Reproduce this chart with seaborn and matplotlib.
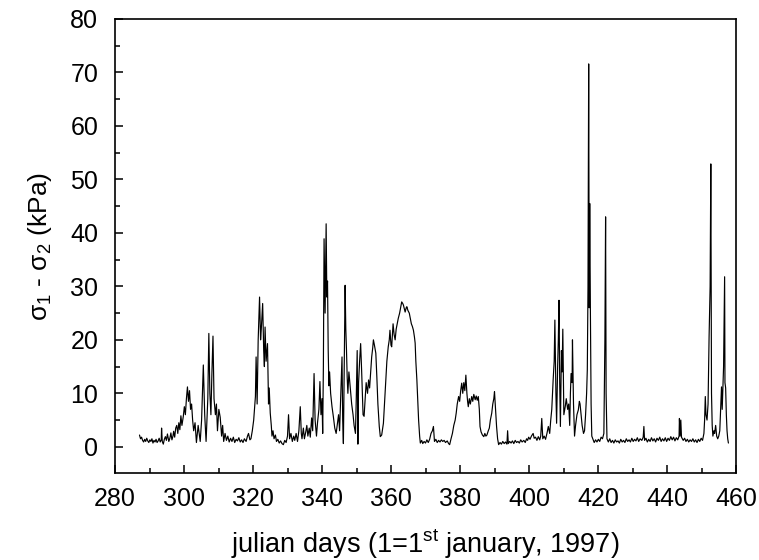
import matplotlib
matplotlib.use("Agg")
import matplotlib.pyplot as plt
import seaborn as sns
import pandas as pd
from matplotlib.ticker import MultipleLocator

# ---- data (julian day, sigma1 - sigma2 in kPa) ----
seg_early = [
    (287.1, 2.2), (287.4, 1.5), (287.7, 1.8), (288.0, 1.2), (288.3, 0.9), (288.6, 1.4), (288.9, 1.0),
    (289.2, 1.6), (289.5, 1.1), (289.8, 0.8), (290.1, 1.3), (290.4, 1.0), (290.7, 1.5), (291.0, 0.7),
    (291.3, 1.2), (291.6, 0.9), (291.9, 1.4), (292.2, 0.8), (292.5, 1.1), (292.8, 1.6), (293.1, 0.9),
    (293.4, 1.3), (293.5, 3.5), (293.7, 1.0), (294.0, 0.5), (294.3, 1.4), (294.6, 1.9), (294.9, 1.2),
    (295.2, 2.4), (295.6, 1.0), (295.9, 1.6), (296.2, 2.6), (296.5, 1.3), (296.8, 2.0), (297.0, 2.9),
    (297.3, 1.8), (297.6, 3.5), (297.9, 4.0), (298.2, 2.5), (298.5, 4.5), (298.8, 3.2), (299.1, 5.8),
    (299.4, 4.0), (299.8, 5.7), (300.1, 7.5), (300.4, 6.0), (300.7, 9.0), (301.0, 11.2), (301.3, 8.5),
    (301.6, 10.5), (301.9, 7.0), (302.2, 8.0), (302.5, 5.0), (302.8, 3.0), (303.2, 4.5), (303.6, 0.8),
    (304.1, 4.0), (304.7, 1.0), (305.1, 5.0), (305.6, 15.3), (306.0, 6.0), (306.4, 1.0), (306.9, 9.0),
    (307.2, 21.2), (307.5, 10.0), (307.8, 6.0), (308.1, 14.0), (308.4, 20.7), (308.7, 9.0), (309.1, 6.0),
    (309.4, 8.0), (309.7, 3.0), (310.1, 7.0), (310.5, 5.5), (310.9, 2.0), (311.2, 4.0), (311.5, 1.0),
    (311.9, 2.5), (312.3, 1.2), (312.7, 2.0), (313.1, 0.9), (313.5, 1.6), (313.9, 1.0), (314.3, 1.8),
    (314.7, 0.8), (315.1, 1.4), (315.5, 1.1), (315.9, 1.7), (316.3, 0.9), (316.7, 1.3), (317.1, 0.8),
    (317.5, 1.5), (318.0, 1.0), (318.4, 2.0), (318.7, 2.5), (319.1, 1.3), (319.4, 1.5),
]
seg_mid = [
    (319.8, 3.0), (320.2, 5.0), (320.7, 9.4), (320.9, 16.8), (321.2, 8.0), (321.5, 20.0), (321.9, 28.0),
    (322.2, 20.0), (322.4, 22.0), (322.8, 26.8), (323.1, 18.0), (323.3, 15.0), (323.5, 22.4), (323.8, 16.0),
    (324.2, 19.3), (324.5, 8.0), (324.7, 11.0), (325.0, 6.3), (325.3, 4.0), (325.5, 2.0), (325.8, 3.0),
    (326.1, 1.5), (326.5, 2.2), (326.8, 1.0), (327.2, 1.4), (327.6, 0.7), (328.0, 1.1), (328.4, 0.6),
    (328.8, 0.4), (329.2, 1.2), (329.6, 0.8), (330.0, 2.0), (330.3, 6.0), (330.6, 1.5), (331.0, 2.5),
    (331.4, 1.0), (331.8, 2.0), (332.1, 1.2), (332.5, 2.5), (332.9, 1.0), (333.3, 3.0), (333.7, 7.5),
    (334.0, 2.5), (334.2, 1.5), (334.6, 3.5), (334.9, 1.5), (335.3, 2.8), (335.6, 4.0), (335.9, 2.0),
    (336.3, 3.5), (336.6, 1.8), (337.0, 5.4), (337.3, 3.0), (337.7, 13.7), (338.0, 5.0), (338.4, 2.0),
    (338.7, 4.5), (339.1, 7.0), (339.4, 12.2), (339.7, 6.0), (340.0, 9.0), (340.2, 2.5), (340.4, 15.0),
    (340.6, 38.9), (340.9, 25.0), (341.2, 41.7), (341.4, 28.0), (341.6, 31.0), (341.8, 18.0), (342.0, 11.4),
    (342.2, 14.0), (342.5, 10.0), (342.9, 7.5), (343.3, 5.6), (343.7, 3.5), (344.1, 2.5), (344.4, 4.0),
    (344.8, 6.0), (345.1, 3.0), (345.4, 9.0), (345.8, 16.8), (346.0, 5.0), (346.2, 0.6), (346.4, 12.0),
    (346.7, 30.2), (346.9, 22.0), (347.1, 18.0), (347.3, 13.0), (347.5, 10.0), (347.8, 14.0), (348.2, 11.0),
    (348.6, 8.0), (349.0, 6.0), (349.3, 4.0), (349.7, 2.5), (349.9, 8.0), (350.2, 18.0), (350.4, 0.5),
    (350.6, 12.0), (350.9, 16.0), (351.2, 19.3), (351.5, 14.0), (351.9, 6.0), (352.2, 5.7), (352.5, 9.0),
    (352.8, 12.0), (353.2, 10.0), (353.5, 12.5), (353.8, 11.0), (354.1, 14.0), (354.4, 16.8), (354.7, 18.5),
    (354.9, 20.0), (355.2, 19.0), (355.6, 17.5), (355.9, 13.0), (356.2, 8.0), (356.6, 3.8), (356.9, 1.9),
    (357.3, 2.2), (357.8, 4.4), (358.1, 8.0), (358.5, 12.5), (358.8, 16.0), (359.2, 18.7), (359.5, 20.0),
    (359.7, 21.8), (360.0, 19.0), (360.2, 18.7), (360.6, 23.0), (360.9, 21.0), (361.2, 20.0), (361.5, 22.0),
    (361.8, 23.0), (362.1, 24.0), (362.5, 25.0), (362.8, 26.0), (363.1, 27.1), (363.4, 26.8), (363.6, 26.5),
    (364.1, 25.2), (364.4, 26.0), (364.6, 26.2), (364.9, 25.5), (365.3, 25.0), (365.6, 24.0), (365.9, 23.0),
    (366.2, 22.5), (366.5, 21.8), (366.8, 20.5), (367.0, 19.4), (367.2, 16.0), (367.5, 12.5), (367.8, 8.0),
    (368.0, 5.0), (368.3, 2.0), (368.5, 0.7),
]
seg_late = [
    (368.9, 1.2), (369.2, 0.6), (369.6, 1.0), (370.0, 0.7), (370.4, 1.3), (370.8, 0.8), (371.2, 1.4),
    (371.6, 2.5), (372.0, 3.0), (372.3, 3.8), (372.6, 1.0), (373.0, 1.4), (373.4, 0.8), (373.8, 1.2),
    (374.2, 0.9), (374.6, 1.3), (375.0, 1.0), (375.4, 1.2), (375.8, 0.8), (376.3, 1.1), (376.7, 0.6),
    (377.0, 0.4), (377.4, 1.5), (377.8, 2.5), (378.2, 4.0), (378.6, 5.0), (378.9, 6.3), (379.2, 8.0),
    (379.6, 9.4), (379.9, 8.5), (380.2, 10.5), (380.5, 11.9), (380.8, 10.0), (381.1, 12.0), (381.4, 10.5),
    (381.7, 13.4), (382.0, 10.0), (382.2, 8.5), (382.4, 7.5), (382.7, 9.0), (383.0, 8.0), (383.4, 9.4),
    (383.7, 8.5), (384.0, 9.8), (384.4, 8.8), (384.7, 9.5), (385.0, 8.7), (385.3, 9.4), (385.6, 7.0),
    (385.8, 3.8), (386.1, 2.8), (386.5, 2.2), (386.9, 1.9), (387.2, 2.5), (387.5, 2.0), (387.8, 2.2),
    (388.2, 3.0), (388.5, 3.5), (388.8, 5.0), (389.2, 6.3), (389.5, 8.0), (389.8, 9.0), (390.0, 10.3),
    (390.3, 7.0), (390.6, 3.8), (390.9, 1.5), (391.2, 0.4), (391.6, 0.8), (392.0, 0.5), (392.4, 1.0),
    (392.8, 0.6), (393.2, 0.9), (393.6, 0.5), (393.8, 3.0), (394.0, 0.6), (394.4, 1.0), (394.8, 0.7),
    (395.2, 1.1), (395.6, 0.6), (396.0, 1.2), (396.4, 0.8), (396.8, 1.0), (397.2, 0.7), (397.6, 1.3),
    (398.0, 0.9), (398.5, 1.2), (398.9, 0.8), (399.3, 1.5), (399.6, 1.2), (399.9, 1.8), (400.3, 1.4),
    (400.7, 2.0), (401.2, 2.5), (401.5, 1.6), (401.9, 1.8), (402.3, 1.2), (402.7, 1.9), (403.1, 1.3),
    (403.4, 2.0), (403.7, 5.3), (404.0, 1.5), (404.4, 2.0), (404.8, 1.4), (405.2, 2.5), (405.6, 3.8),
    (406.0, 2.5), (406.3, 5.0), (406.6, 7.0), (407.0, 12.5), (407.3, 16.0), (407.5, 23.7), (407.8, 10.0),
    (408.0, 4.4), (408.3, 15.0), (408.5, 20.0), (408.7, 27.4), (408.9, 12.0), (409.1, 3.8), (409.4, 18.0),
    (409.6, 14.0), (409.8, 22.0), (410.1, 6.0), (410.5, 7.5), (410.8, 9.0), (411.2, 7.0), (411.5, 8.0),
    (411.8, 4.0), (412.0, 10.0), (412.2, 13.7), (412.5, 12.0), (412.6, 20.0), (412.9, 8.0), (413.2, 2.0),
    (413.5, 4.0), (413.9, 6.0), (414.3, 6.9), (414.6, 8.5), (414.8, 8.0), (415.1, 6.0), (415.4, 4.0),
    (415.8, 2.5), (416.1, 3.0), (416.4, 6.0), (416.7, 10.0), (416.9, 14.4), (417.1, 30.0), (417.3, 71.6),
    (417.45, 26.0), (417.6, 45.5), (417.8, 25.0), (418.0, 8.0), (418.2, 2.0), (418.5, 1.5), (418.9, 0.8),
    (419.3, 1.3), (419.7, 0.9), (420.1, 1.4), (420.5, 1.0), (420.9, 1.8), (421.3, 1.5), (421.7, 2.5),
    (422.0, 20.0), (422.2, 43.0), (422.35, 10.0), (422.6, 1.5), (423.0, 0.9), (423.4, 1.5), (423.8, 0.8),
    (424.2, 1.2), (424.6, 0.7), (425.0, 1.3), (425.4, 0.9), (425.8, 1.1), (426.2, 0.7), (426.6, 1.4),
    (427.0, 0.9), (427.4, 1.2), (427.8, 0.8), (428.2, 1.5), (428.6, 1.0), (429.0, 1.3), (429.4, 0.9),
    (429.8, 1.6), (430.2, 1.0), (430.6, 1.4), (431.0, 1.1), (431.4, 1.7), (431.8, 1.0), (432.2, 1.5),
    (432.7, 1.2), (433.1, 1.8), (433.3, 3.8), (433.5, 1.2), (433.9, 1.6), (434.3, 0.9), (434.7, 1.4),
    (435.1, 1.0), (435.5, 1.7), (435.9, 1.1), (436.3, 1.5), (436.7, 0.9), (437.1, 1.6), (437.5, 1.2),
    (437.9, 1.8), (438.3, 1.0), (438.7, 1.5), (439.1, 1.1), (439.5, 1.7), (439.9, 1.0), (440.3, 1.6),
    (440.7, 1.2), (441.1, 1.9), (441.5, 1.3), (441.9, 1.8), (442.3, 1.1), (442.7, 1.7), (443.1, 1.3),
    (443.5, 2.0), (443.6, 5.3), (443.8, 2.0), (444.0, 5.0), (444.2, 1.8), (444.7, 1.2), (445.1, 1.6),
    (445.5, 1.0), (445.9, 1.4), (446.3, 0.9), (446.7, 1.3), (447.1, 1.0), (447.5, 1.5), (447.9, 0.9),
    (448.3, 1.3), (448.7, 0.8), (449.1, 1.4), (449.5, 1.0), (449.9, 1.6), (450.3, 1.2), (450.7, 2.5),
    (450.9, 5.0), (451.1, 9.4), (451.3, 6.0), (451.6, 5.0), (451.9, 8.0), (452.2, 20.6), (452.5, 30.0),
    (452.7, 52.9), (452.9, 10.0), (453.1, 4.0), (453.3, 2.0), (453.6, 3.0), (453.8, 2.5), (454.1, 4.0),
    (454.4, 2.0), (454.7, 1.5), (455.0, 2.0), (455.3, 3.0), (455.6, 8.0), (455.8, 11.2), (456.0, 7.0),
    (456.2, 11.0), (456.4, 15.0), (456.7, 31.8), (456.8, 12.0), (457.0, 11.0), (457.2, 6.0), (457.4, 3.0),
    (457.6, 1.5), (457.8, 0.7),
]

x_ticks = [280, 300, 320, 340, 360, 380, 400, 420, 440, 460]
y_ticks = [0, 10, 20, 30, 40, 50, 60, 70, 80]
x_label = r"julian days (1=1$^{\mathrm{st}}$ january, 1997)"
y_label = r"σ$_{1}$ - σ$_{2}$ (kPa)"

points = seg_early + seg_mid + seg_late
df = pd.DataFrame(points, columns=["day", "stress"])

# ---- style ----
sns.set_style("ticks")
plt.rcParams["font.family"] = ["Liberation Sans", "DejaVu Sans"]
plt.rcParams["mathtext.fontset"] = "custom"
plt.rcParams["mathtext.rm"] = "Liberation Sans"
plt.rcParams["mathtext.it"] = "Liberation Sans:italic"
plt.rcParams["mathtext.default"] = "regular"
plt.rcParams["text.color"] = "black"
plt.rcParams["axes.labelcolor"] = "black"
plt.rcParams["xtick.color"] = "black"
plt.rcParams["ytick.color"] = "black"

fig = plt.figure(figsize=(7.59, 5.60), dpi=100)
ax = fig.add_axes([115 / 759, 87 / 560, 621 / 759, 454 / 560])

sns.lineplot(data=df, x="day", y="stress", ax=ax, color="black",
             linewidth=0.85, estimator=None, sort=False)

ax.set_xlim(280, 460)
ax.set_ylim(-4.9, 80)
ax.set_xticks(x_ticks)
ax.set_yticks(y_ticks)
ax.xaxis.set_minor_locator(MultipleLocator(10))
ax.yaxis.set_minor_locator(MultipleLocator(5))
ax.tick_params(axis="x", which="major", pad=10)
ax.tick_params(axis="y", which="major", pad=12)
ax.tick_params(axis="both", which="major", direction="in", length=6, width=1.1,
               labelsize=18, top=False, right=False, colors="black")
ax.tick_params(axis="both", which="minor", direction="in", length=3.5, width=1.1,
               top=False, right=False, colors="black")
for s in ax.spines.values():
    s.set_linewidth(1.2)
    s.set_color("black")

ax.set_xlabel(x_label, fontsize=19.5, labelpad=12)
ax.set_ylabel(y_label, fontsize=19, labelpad=12)

fig.savefig("out.png", dpi=100)
